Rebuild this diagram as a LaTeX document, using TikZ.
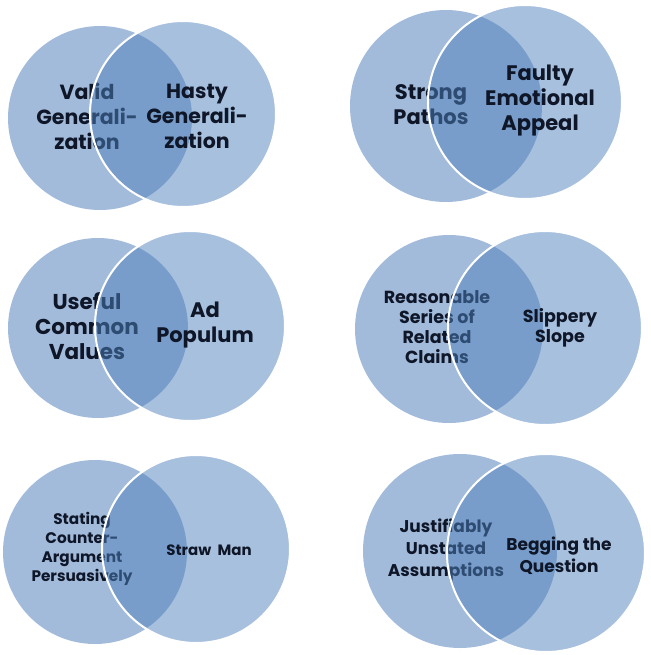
\documentclass[tikz,border=0pt]{standalone}
\usepackage{fontspec}
\setmainfont{Poppins}
\definecolor{leftfill}{RGB}{163,187,219}
\definecolor{rightfill}{RGB}{79,129,189}
\definecolor{txt}{RGB}{14,22,40}
\begin{document}
\begin{tikzpicture}[x=1pt,y=-1pt,
  lc/.style={circle,fill=leftfill,inner sep=0pt,outer sep=0pt,minimum size=#1},
  rc/.style={circle,fill=rightfill,fill opacity=0.5,draw=white,draw opacity=1,line width=2pt,inner sep=0pt,outer sep=0pt,minimum size=#1},
  lbl/.style 2 args={text=txt,align=center,inner sep=0pt,font=\bfseries\fontsize{#1}{#2}\selectfont},
]
\useasboundingbox (0,0) rectangle (650,655);
% Pair 1
\node[lc=184pt] (c1l) at (100,118) {};
\node[lbl={20.5}{25}] (t1l) at (87,116) {Valid\\Generali-\\zation};
\node[rc=186pt] (c1r) at (183,114) {};
\node[lbl={20.5}{25}] (t1r) at (197,116) {Hasty\\Generali-\\zation};
% Pair 2
\node[lc=192pt] (c2l) at (446,106) {};
\node[lbl={21}{25}] (t2l) at (431,105) {Strong\\Pathos};
\node[rc=194pt] (c2r) at (525,102) {};
\node[lbl={21}{25}] (t2r) at (540,101) {Faulty\\Emotional\\Appeal};
% Pair 3
\node[lc=180pt] (c3l) at (98,328) {};
\node[lbl={21.5}{25}] (t3l) at (87,326) {Useful\\Common\\Values};
\node[rc=190pt] (c3r) at (190,326) {};
\node[lbl={21}{25}] (t3r) at (205,325) {Ad\\Populum};
% Pair 4
\node[lc=188pt] (c4l) at (449,329) {};
\node[lbl={17.5}{20}] (t4l) at (437,327) {Reasonable\\Series of\\Related\\Claims};
\node[rc=194pt] (c4r) at (545,328) {};
\node[lbl={17.5}{20}] (t4r) at (560,328) {Slippery\\Slope};
% Pair 5
\node[lc=184pt] (c5l) at (95,552) {};
\node[lbl={15.3}{19}] (t5l) at (82,549) {Stating\\Counter-\\Argument\\Persuasively};
\node[rc=188pt] (c5r) at (196,549) {};
\node[lbl={15}{19}] (t5r) at (209,550) {Straw\ \ Man};
% Pair 6
\node[lc=194pt] (c6l) at (460,551) {};
\node[lbl={17}{22}] (t6l) at (446,550) {Justifiably\\Unstated\\Assumptions};
\node[rc=198pt] (c6r) at (546,553) {};
\node[lbl={17}{22}] (t6r) at (559,556) {Begging the\\Question};
\end{tikzpicture}
\end{document}
